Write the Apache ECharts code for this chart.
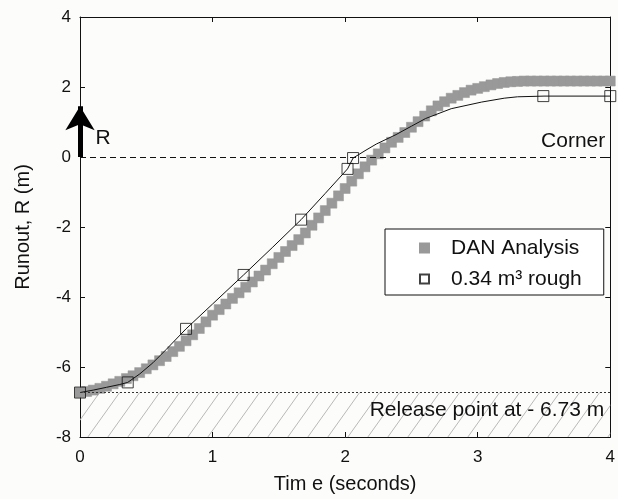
<!DOCTYPE html>
<html>
<head>
<meta charset="utf-8">
<script src="https://cdn.jsdelivr.net/npm/echarts@6/dist/echarts.min.js"></script>
<style>
  html, body { margin: 0; padding: 0; background: #fcfcfb; }
  #chart { width: 618px; height: 499px; }
</style>
</head>
<body>
<div id="chart"></div>
<script>
// DAN analysis, one square every 0.05 s
const danTime = [
  0.00, 0.05, 0.10, 0.15, 0.20, 0.25, 0.30, 0.35, 0.40, 0.45,
  0.50, 0.55, 0.60, 0.65, 0.70, 0.75, 0.80, 0.85, 0.90, 0.95,
  1.00, 1.05, 1.10, 1.15, 1.20, 1.25, 1.30, 1.35, 1.40, 1.45,
  1.50, 1.55, 1.60, 1.65, 1.70, 1.75, 1.80, 1.85, 1.90, 1.95,
  2.00, 2.05, 2.10, 2.15, 2.20, 2.25, 2.30, 2.35, 2.40, 2.45,
  2.50, 2.55, 2.60, 2.65, 2.70, 2.75, 2.80, 2.85, 2.90, 2.95,
  3.00, 3.05, 3.10, 3.15, 3.20, 3.25, 3.30, 3.35, 3.40, 3.45,
  3.50, 3.55, 3.60, 3.65, 3.70, 3.75, 3.80, 3.85, 3.90, 3.95,
  4.00
];
const danRunout = [
  -6.73, -6.70, -6.66, -6.61, -6.55, -6.48, -6.41, -6.33, -6.25, -6.16,
  -6.05, -5.94, -5.82, -5.70, -5.56, -5.41, -5.25, -5.08, -4.90, -4.71,
  -4.52, -4.36, -4.20, -4.04, -3.88, -3.72, -3.57, -3.40, -3.23, -3.05,
  -2.87, -2.70, -2.53, -2.36, -2.17, -1.95, -1.74, -1.53, -1.32, -1.11,
  -0.90, -0.69, -0.48, -0.28, -0.09, 0.09, 0.26, 0.42, 0.56, 0.70,
  0.85, 1.01, 1.17, 1.32, 1.46, 1.58, 1.68, 1.76, 1.84, 1.91,
  1.96, 2.01, 2.06, 2.10, 2.13, 2.15, 2.16, 2.17, 2.17, 2.17,
  2.17, 2.17, 2.17, 2.17, 2.17, 2.17, 2.17, 2.17, 2.17, 2.17,
  2.17
];

// 0.34 m3 rough test: the thin curve and its square markers
const roughCurveTime = [0, 0.1, 0.2, 0.3, 0.36, 0.45, 0.55, 0.65, 0.8, 1.0, 1.234, 1.45, 1.668, 1.85, 2.018, 2.06, 2.15, 2.235, 2.384, 2.5, 2.607, 2.8, 3.03, 3.2, 3.3, 3.5, 4.0];
const roughCurveRunout = [-6.73, -6.66, -6.58, -6.5, -6.44, -6.2, -5.88, -5.5, -4.91, -4.2, -3.37, -2.59, -1.79, -1.04, -0.34, -0.03, 0.18, 0.37, 0.64, 0.88, 1.1, 1.38, 1.57, 1.68, 1.72, 1.74, 1.74];
const roughTime = [0, 0.36, 0.8, 1.234, 1.668, 2.018, 2.06, 3.495, 4.0];
const roughRunout = [-6.73, -6.44, -4.91, -3.37, -1.79, -0.34, -0.03, 1.74, 1.74];

const seriesNames = ['DAN Analysis', '0.34 m³ rough'];
const releasePoint = -6.73;
const cornerLevel = 0;
const arrowTop = 1.45;
const arrowLabelAt = 0.55;
const timeRange = [0, 4];
const runoutRange = [-8, 4];

const FONT = '"Liberation Sans", Arial, sans-serif';

// diagonal hatch for the area below the release point
function hatchPattern() {
  const c = document.createElement('canvas');
  c.width = 20;
  c.height = 28;
  const g = c.getContext('2d');
  g.strokeStyle = '#b8b8b8';
  g.lineWidth = 1;
  for (const dx of [-20, 0, 20]) {
    g.beginPath();
    g.moveTo(dx, 28);
    g.lineTo(dx + 20, 0);
    g.stroke();
  }
  return c;
}

const zip = (xs, ys) => xs.map((x, i) => [x, ys[i]]);

const chart = echarts.init(document.getElementById('chart'));

const tickCommon = {
  axisLine: { show: true, onZero: false, lineStyle: { color: '#111', width: 1 } },
  axisTick: { show: true, inside: true, length: 5, lineStyle: { color: '#111' } },
  splitLine: { show: false },
};

chart.setOption({
  animation: false,
  backgroundColor: '#fcfcfb',
  textStyle: { fontFamily: FONT },
  grid: { left: 80, right: 1, top: 17, bottom: 59 },
  legend: {
    data: seriesNames,
    orient: 'vertical',
    left: 385,
    top: 229,
    padding: [8, 22, 5, 34],
    itemGap: 9,
    itemWidth: 9,
    itemHeight: 9,
    backgroundColor: '#ffffff',
    borderColor: '#111',
    borderWidth: 1,
    borderRadius: 0,
    textStyle: { fontFamily: FONT, fontSize: 21, color: '#111', lineHeight: 22, padding: [0, 0, 0, 17] },
  },
  xAxis: [
    {
      type: 'value', min: timeRange[0], max: timeRange[1], interval: 1,
      name: 'Tim e (seconds)', nameLocation: 'middle', nameGap: 37,
      nameTextStyle: { fontFamily: FONT, fontSize: 20, color: '#111' },
      axisLabel: { fontFamily: FONT, fontSize: 17, color: '#111', margin: 12 },
      ...tickCommon,
    },
    {
      type: 'value', position: 'top', min: timeRange[0], max: timeRange[1], interval: 1,
      axisLabel: { show: false },
      ...tickCommon,
    },
  ],
  yAxis: [
    {
      type: 'value', min: runoutRange[0], max: runoutRange[1], interval: 2,
      name: 'Runout, R (m)', nameLocation: 'middle', nameGap: 47,
      nameTextStyle: { fontFamily: FONT, fontSize: 20, color: '#111' },
      axisLabel: { fontFamily: FONT, fontSize: 17, color: '#111', margin: 9 },
      ...tickCommon,
    },
    {
      type: 'value', position: 'right', min: runoutRange[0], max: runoutRange[1], interval: 2,
      axisLabel: { show: false },
      ...tickCommon,
    },
  ],
  series: [
    {
      name: seriesNames[0],
      type: 'scatter',
      data: zip(danTime, danRunout),
      symbol: 'rect',
      symbolSize: 10,
      itemStyle: { color: '#999999', borderColor: '#999999', borderWidth: 0.5, opacity: 1 },
      z: 2,
      markArea: {
        silent: true,
        itemStyle: { color: { image: hatchPattern(), repeat: 'repeat' }, borderWidth: 0 },
        label: {
          show: true,
          position: 'insideRight',
          distance: 6,
          offset: [0, -5],
          fontFamily: FONT,
          fontSize: 21,
          color: '#111',
        },
        data: [[
          { name: 'Release point at - 6.73 m', xAxis: timeRange[0], yAxis: releasePoint },
          { xAxis: timeRange[1], yAxis: runoutRange[0] },
        ]],
      },
      markLine: {
        silent: true,
        symbol: ['none', 'none'],
        data: [
          {
            yAxis: cornerLevel,
            lineStyle: { type: [6, 4], color: '#111', width: 1 },
            label: { show: true, formatter: 'Corner', position: 'insideEndTop', distance: [5, 5], fontFamily: FONT, fontSize: 21, color: '#111' },
          },
          {
            yAxis: releasePoint,
            lineStyle: { type: [2, 2], color: '#333', width: 1 },
            label: { show: false },
          },
        ],
      },
    },
    {
      name: 'rough curve',
      type: 'line',
      data: zip(roughCurveTime, roughCurveRunout),
      showSymbol: false,
      smooth: false,
      lineStyle: { color: '#111', width: 1 },
      z: 3,
      markLine: {
        silent: true,
        symbol: ['none', 'arrow'],
        symbolSize: [22, 24],
        lineStyle: { type: 'solid', color: '#000', width: 5 },
        label: { show: false },
        data: [[
          { coord: [timeRange[0], cornerLevel] },
          { coord: [timeRange[0], arrowTop] },
        ]],
      },
      markPoint: {
        silent: true,
        symbol: 'circle',
        symbolSize: 1,
        itemStyle: { color: 'rgba(0,0,0,0)' },
        label: { show: true, position: 'inside', formatter: 'R', offset: [23, 0], fontFamily: FONT, fontSize: 21, color: '#111' },
        data: [{ coord: [timeRange[0], arrowLabelAt] }],
      },
    },
    {
      name: seriesNames[1],
      type: 'scatter',
      data: zip(roughTime, roughRunout),
      symbol: 'rect',
      symbolSize: 11,
      itemStyle: { color: 'rgba(0,0,0,0)', borderColor: '#111', borderWidth: 1 },
      z: 4,
    },
  ],
});
</script>
</body>
</html>
